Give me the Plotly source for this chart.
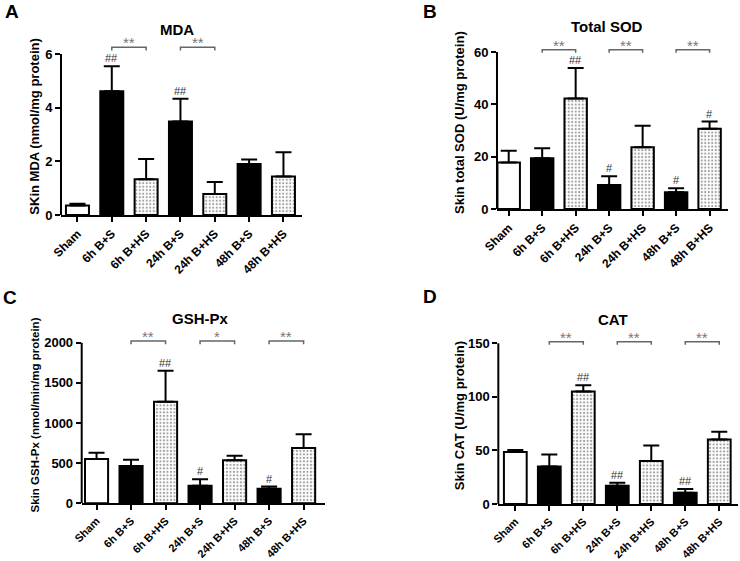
import plotly.graph_objects as go

groups = ["Sham", "6h B+S", "6h B+HS", "24h B+S", "24h B+HS", "48h B+S", "48h B+HS"]
styles = ["white", "black", "dots", "black", "dots", "black", "dots"]

mda = [0.35, 4.61, 1.33, 3.48, 0.78, 1.90, 1.43]
mda_err = [0.07, 0.93, 0.76, 0.85, 0.45, 0.17, 0.91]
mda_hash = ["", "##", "", "##", "", "", ""]

sod = [17.8, 19.4, 42.2, 9.2, 23.6, 6.4, 30.7]
sod_err = [4.5, 3.8, 11.7, 3.3, 8.2, 1.5, 2.7]
sod_hash = ["", "", "##", "#", "", "#", "#"]

gpx = [552, 465, 1266, 220, 535, 183, 689]
gpx_err = [79, 79, 385, 79, 58, 25, 170]
gpx_hash = ["", "", "##", "#", "", "#", ""]

cat = [48.5, 34.9, 104.9, 17.1, 40.1, 10.6, 60.1]
cat_err = [1.9, 11.2, 5.9, 2.8, 14.4, 3.4, 7.4]
cat_hash = ["", "", "##", "##", "", "##", ""]

FONT = "Liberation Sans, Arial, sans-serif"

fig = go.Figure()
annotations = []
shapes = []


def panel(n, vals, errs, hashes, sig, title, ytitle, yticks, ymax, ybrk,
          xdom, ydom, xrng, title_xy, letter, letter_xy, standoff, tsize=13, xfont=12):
    xa = "x" if n == 1 else "x%d" % n
    ya = "y" if n == 1 else "y%d" % n
    colors = ["white" if s != "black" else "black" for s in styles]
    shapes_ = ["." if s == "dots" else "" for s in styles]
    fig.add_trace(go.Bar(
        x=list(range(len(groups))), y=vals, xaxis=xa, yaxis=ya, width=0.67,
        marker=dict(color=colors, line=dict(color="black", width=2),
                    pattern=dict(shape=shapes_, fgcolor="#b4b4b4", bgcolor="white",
                                 size=3.5, solidity=0.3)),
        error_y=dict(type="data", symmetric=False, array=errs,
                     arrayminus=[0] * len(errs), color="black", thickness=2, width=8),
        showlegend=False, hoverinfo="skip"))
    xaxis = dict(domain=xdom, range=xrng, tickmode="array", automargin=False,
                 tickvals=list(range(len(groups))), ticktext=groups, tickangle=-45,
                 showline=True, linecolor="black", linewidth=2, ticks="outside",
                 ticklen=5, tickwidth=2, tickcolor="black", showgrid=False,
                 zeroline=False, anchor=ya,
                 tickfont=dict(family=FONT, size=xfont, color="black", weight="bold"))
    yaxis = dict(domain=ydom, range=[0, ymax], tickmode="array", tickvals=yticks,
                 automargin=False, showline=False, ticks="outside", ticklen=5,
                 tickwidth=2, tickcolor="black", showgrid=False, zeroline=False,
                 anchor=xa,
                 tickfont=dict(family=FONT, size=13, color="black", weight="bold"),
                 title=dict(text=ytitle, standoff=standoff,
                            font=dict(family=FONT, size=tsize, color="black",
                                      weight="bold")))
    key = "" if n == 1 else str(n)
    fig.update_layout(**{"xaxis" + key: xaxis, "yaxis" + key: yaxis})
    # y axis line up to the last tick
    shapes.append(dict(type="line", xref="paper", yref=ya, x0=xdom[0], x1=xdom[0],
                       y0=0, y1=yticks[-1], line=dict(color="black", width=2)))
    # hash marks
    for i, h in enumerate(hashes):
        if h:
            annotations.append(dict(x=i, y=vals[i] + errs[i], xref=xa, yref=ya, text=h,
                                    showarrow=False, yanchor="bottom", yshift=0,
                                    font=dict(family=FONT, size=11, color="#333")))
    # significance brackets
    tick = ymax * 0.018
    for a, b, s in sig:
        shapes.append(dict(type="path", xref=xa, yref=ya,
                           path="M %g %g L %g %g L %g %g L %g %g" % (
                               a, ybrk - tick, a, ybrk, b, ybrk, b, ybrk - tick),
                           line=dict(color="#666", width=1.5)))
        annotations.append(dict(x=(a + b) / 2, y=ybrk, xref=xa, yref=ya, text=s,
                                showarrow=False, yanchor="bottom", yshift=-6,
                                font=dict(family=FONT, size=15, color="#777")))
    annotations.append(dict(x=title_xy[0] / 740, y=1 - title_xy[1] / 561, xref="paper",
                            yref="paper", text=title, showarrow=False,
                            xanchor="center", yanchor="middle",
                            font=dict(family=FONT, size=15, color="black", weight="bold")))
    annotations.append(dict(x=letter_xy[0] / 740, y=1 - letter_xy[1] / 561, xref="paper",
                            yref="paper", text=letter, showarrow=False,
                            xanchor="center", yanchor="middle",
                            font=dict(family=FONT, size=19, color="black", weight="bold")))


panel(1, mda, mda_err, mda_hash, [(1, 2, "**"), (3, 4, "**")], "MDA",
      "SKin MDA (nmol/mg protein)", [0, 2, 4, 6], 6.6, 6.25,
      [0.0824, 0.4081], [0.6168, 0.9324], [-0.48, 6.54], (177, 29), "A", (12, 11), 2)
panel(2, sod, sod_err, sod_hash, [(1, 2, "**"), (3, 4, "**"), (5, 6, "**")], "Total SOD",
      "Skin total SOD (U/mg protein)", [0, 20, 40, 60], 66, 60.9,
      [0.6716, 0.9838], [0.6275, 0.9353], [-0.35, 6.55], (607, 27), "B", (430, 11), 6)
panel(3, gpx, gpx_err, gpx_hash, [(1, 2, "**"), (3, 4, "*"), (5, 6, "**")], "GSH-Px",
      "Skin GSH-Px (nmol/min/mg protein)", [0, 500, 1000, 1500, 2000], 2200, 2021,
      [0.1104, 0.4392], [0.1028, 0.4178], [-0.43, 6.62], (200, 318), "C", (10, 297), 2,
      11.5, 11)
panel(4, cat, cat_err, cat_hash, [(1, 2, "**"), (3, 4, "**"), (5, 6, "**")], "CAT",
      "Skin CAT (U/mg protein)", [0, 50, 100, 150], 165, 151.5,
      [0.6734, 0.9977], [0.1016, 0.4168], [-0.5, 6.56], (613, 319), "D", (430, 296), 0,
      13, 11)

fig.update_layout(width=740, height=561, margin=dict(l=0, r=0, t=0, b=0),
                  plot_bgcolor="white", paper_bgcolor="white", bargap=0.3,
                  shapes=shapes, annotations=annotations, hovermode=False,
                  font=dict(family=FONT, color="black"))
fig.write_html("out.html", config={"displayModeBar": False},
               post_script="document.body.style.margin = '0px';")
